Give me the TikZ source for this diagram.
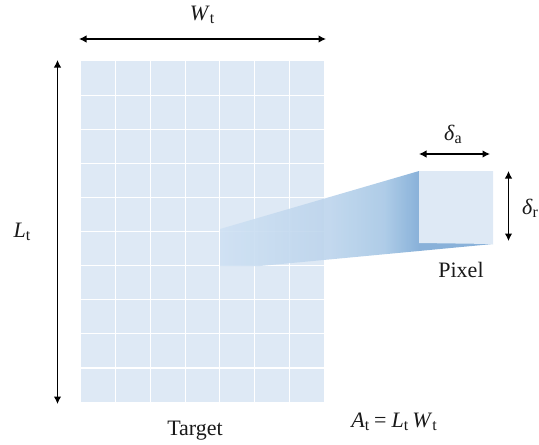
\documentclass[tikz,border=0pt]{standalone}
\usepackage{fontspec}
\setmainfont{Liberation Serif}
\usetikzlibrary{arrows.meta}
\definecolor{cellblue}{HTML}{DEE9F5}
\definecolor{beamlight}{HTML}{CFE1F3}
\definecolor{beammid}{HTML}{BCD4EC}
\definecolor{beamnear}{HTML}{A6C7E5}
\definecolor{beamdark}{HTML}{7CA9D5}
\pgfdeclarehorizontalshading{beamshade}{100bp}{color(0bp)=(beamlight); color(25bp)=(beamlight); color(45bp)=(beammid); color(55bp)=(beamnear); color(61.4bp)=(beamdark); color(100bp)=(beamdark)}
\newcommand{\qty}[2]{\textit{#1}{\fontsize{16}{16}\selectfont\raisebox{-3pt}{#2}}}
\tikzset{
  x=1pt,y=-1pt,
  dim/.style={draw=black,line width=1.2pt,{Latex[length=7.5pt,width=7.5pt]}-{Latex[length=7.5pt,width=7.5pt]}},
  gridline/.style={draw=white,line width=1.2pt},
  lab/.style={inner sep=0pt,font=\fontsize{22}{22}\selectfont,text=black!90}
}
\begin{document}
\begin{tikzpicture}
\useasboundingbox (0,0) rectangle (539,445);
\fill[cellblue] (81,61) rectangle (324,402);
\foreach \i in {1,...,6} \draw[gridline] ({81+\i*34.7},61) -- ({81+\i*34.7},402);
\foreach \i in {1,...,9} \draw[gridline] (81,{61+\i*34.1}) -- (324,{61+\i*34.1});
\shade[shading=beamshade,fill opacity=0.9] (220,229) -- (419,171) -- (493,244) -- (260,266) -- (220,266) -- cycle;
\fill[cellblue] (419,171) -- (419,243) -- (493,244) -- (493,171) -- cycle;
\coordinate (wl) at (79,39); \coordinate (wr) at (326,39);
\coordinate (lt) at (57.5,60); \coordinate (lb) at (57.5,404);
\coordinate (al) at (419,154); \coordinate (ar) at (490,154);
\coordinate (rt) at (508.5,171); \coordinate (rb) at (508.5,241);
\draw[dim] (wl) -- (wr);
\draw[dim] (lt) -- (lb);
\draw[dim] (al) -- (ar);
\draw[dim] (rt) -- (rb);
\node[lab] (wlabel) at (202,15) {\qty{W}{t}};
\node[lab] (llabel) at (22,232) {\qty{L}{t}};
\node[lab] (alabel) at (453,134) {\qty{δ}{a}};
\node[lab] (rlabel) at (530,208) {\qty{δ}{r}};
\node[lab] (pixel) at (461,270) {Pixel};
\node[lab] (target) at (195,431) {Target};
\node[lab] (area) at (394,422) {\qty{A}{t}\hspace{5pt}=\hspace{5pt}\qty{L}{t}\hspace{4pt}\qty{W}{t}};
\end{tikzpicture}
\end{document}
